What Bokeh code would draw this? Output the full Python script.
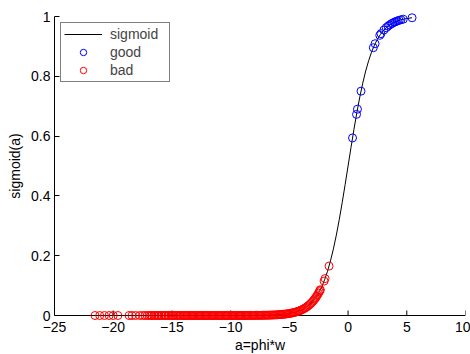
import numpy as np
from bokeh.plotting import figure
from bokeh.models import Range1d, FixedTicker, Legend, LegendItem, Span
from bokeh.embed import file_html
from bokeh.resources import INLINE

# x values of the sigmoid curve
line_a = [-25, -23, -21, -19, -17, -15, -13, -11, -10, -9, -8, -7.5, -7, -6.5, -6,
          -5.5, -5, -4.5, -4, -3.75, -3.5, -3.25, -3, -2.75, -2.5, -2.25, -2, -1.75,
          -1.5, -1.25, -1, -0.75, -0.5, -0.25, 0, 0.25, 0.5, 0.75, 1, 1.25, 1.5, 1.75,
          2, 2.25, 2.5, 2.75, 3, 3.25, 3.5, 3.75, 4, 4.25, 4.5, 5, 5.45]

good_a = [0.38, 0.72, 0.8, 1.1, 2.15, 2.3, 2.7, 2.8, 3.05, 3.25, 3.4, 3.55, 3.7, 3.8,
          3.95, 4.05, 4.2, 4.35, 4.5, 4.7, 5.45]

bad_a = [-21.55, -21.15, -20.75, -20.35, -20.0, -19.6, -18.65, -18.4, -18.1, -17.75,
         -17.5, -17.3, -17.1, -16.95, -16.8, -16.7, -16.55, -16.45, -16.3, -16.2,
         -16.1, -15.95, -15.85, -15.7, -15.6, -15.5, -15.35, -15.25, -15.1, -15.0,
         -14.9, -14.8, -14.65, -14.55, -14.45, -14.3, -14.2, -14.1, -14.0, -13.9,
         -13.8, -13.7, -13.6, -13.5, -13.4, -13.3, -13.2, -13.1, -13.0, -12.9,
         -12.8, -12.7, -12.6, -12.5, -12.4, -12.3, -12.2, -12.1, -12.0, -11.9,
         -11.8, -11.7, -11.6, -11.5, -11.4, -11.3, -11.2, -11.1, -11.0, -10.9,
         -10.8, -10.7, -10.6, -10.5, -10.4, -10.3, -10.2, -10.1, -10.0, -9.9,
         -9.8, -9.7, -9.6, -9.5, -9.4, -9.3, -9.2, -9.1, -9.0, -8.9,
         -8.8, -8.7, -8.6, -8.5, -8.4, -8.3, -8.2, -8.1, -8.0, -7.9,
         -7.8, -7.7, -7.6, -7.5, -7.4, -7.3, -7.2, -7.1, -7.0, -6.9,
         -6.8, -6.7, -6.6, -6.5, -6.4, -6.3, -6.2, -6.1, -6.0, -5.9,
         -5.8, -5.7, -5.6, -5.5, -5.4, -5.3, -5.2, -5.1, -5.0, -4.9,
         -4.8, -4.7, -4.6, -4.5, -4.4, -4.3, -4.2, -4.1, -4.0, -3.9,
         -3.8, -3.7, -3.6, -3.5, -3.4, -3.3, -3.2, -3.1, -3.0, -2.92,
         -2.84, -2.76, -2.68, -2.6, -2.52, -2.45, -2.4, -2.36, -2.04, -1.96, -1.62]

x_ticks = [-25, -20, -15, -10, -5, 0, 5, 10]
x_tick_labels = ["\u221225", "\u221220", "\u221215", "\u221210", "\u22125", "0", "5", "10"]
y_ticks = [0, 0.2, 0.4, 0.6, 0.8, 1]
y_tick_labels = ["0", "0.2", "0.4", "0.6", "0.8", "1"]


def sigmoid(a):
    return 1.0 / (1.0 + np.exp(-np.asarray(a, dtype=float)))


FONT = "Liberation Sans"
FS = "14px"

# axes 0..1 span 299 px; 5 px of extra room above and below so markers are not clipped
PAD = 5.0 / 299.0
TICK = 5.0 / 299.0

p = figure(frame_width=411, frame_height=309,
           x_range=Range1d(-25, 10), y_range=Range1d(-PAD, 1 + PAD),
           output_backend="svg", toolbar_location=None,
           min_border_left=54, min_border_top=11, min_border_right=5,
           min_border_bottom=34)
p.outline_line_color = None
p.xgrid.visible = False
p.ygrid.visible = False
p.background_fill_color = "white"
p.border_fill_color = "white"

# x axis line at y = 0 and inward ticks
p.add_layout(Span(location=0, dimension="width", line_color="black",
                  line_width=1, level="underlay"))
p.segment(x0=x_ticks, y0=[0] * len(x_ticks), x1=x_ticks, y1=[TICK] * len(x_ticks),
          line_color="black", line_width=1, level="underlay")

r_line = p.line(line_a, sigmoid(line_a), line_color="black", line_width=1)
r_good = p.scatter(good_a, sigmoid(good_a), marker="circle", size=8,
                   fill_color=None, line_color="#0000ff", line_width=1)
r_bad = p.scatter(bad_a, sigmoid(bad_a), marker="circle", size=8,
                  fill_color=None, line_color="#ff0000", line_width=1)

for ax in (p.xaxis[0], p.yaxis[0]):
    ax.major_tick_line_color = "black"
    ax.major_tick_in = 5
    ax.major_tick_out = 0
    ax.minor_tick_line_color = None
    ax.major_label_text_font = FONT
    ax.major_label_text_font_size = FS
    ax.major_label_text_color = "black"
    ax.axis_label_text_font = FONT
    ax.axis_label_text_font_size = FS
    ax.axis_label_text_font_style = "normal"
    ax.axis_label_text_color = "black"

p.xaxis.axis_line_color = None
p.xaxis.major_tick_line_color = None
p.yaxis.axis_line_color = "black"
p.yaxis.bounds = (0, 1)

p.xaxis.ticker = FixedTicker(ticks=x_ticks)
p.xaxis.major_label_overrides = {t: l for t, l in zip(x_ticks, x_tick_labels)}
p.yaxis.ticker = FixedTicker(ticks=y_ticks)
p.yaxis.major_label_overrides = {t: l for t, l in zip(y_ticks, y_tick_labels)}
p.xaxis.axis_label = "a=phi*w"
p.yaxis.axis_label = "sigmoid(a)"
p.xaxis.major_label_standoff = 1
p.xaxis.axis_label_standoff = 2
p.yaxis.major_label_standoff = 4
p.yaxis.axis_label_standoff = 5

legend = Legend(items=[LegendItem(label="sigmoid", renderers=[r_line]),
                       LegendItem(label="good", renderers=[r_good]),
                       LegendItem(label="bad", renderers=[r_bad])],
                location=(6, 238))
legend.margin = 0
legend.padding = 3
legend.spacing = 2
legend.label_height = 16
legend.glyph_height = 16
legend.glyph_width = 38
legend.label_width = 56
legend.label_standoff = 8
legend.label_text_font = FONT
legend.label_text_font_size = FS
legend.border_line_color = "black"
legend.border_line_width = 1
legend.background_fill_color = "white"
legend.background_fill_alpha = 1
p.add_layout(legend)

open("out.html", "w").write(file_html(p, INLINE))
